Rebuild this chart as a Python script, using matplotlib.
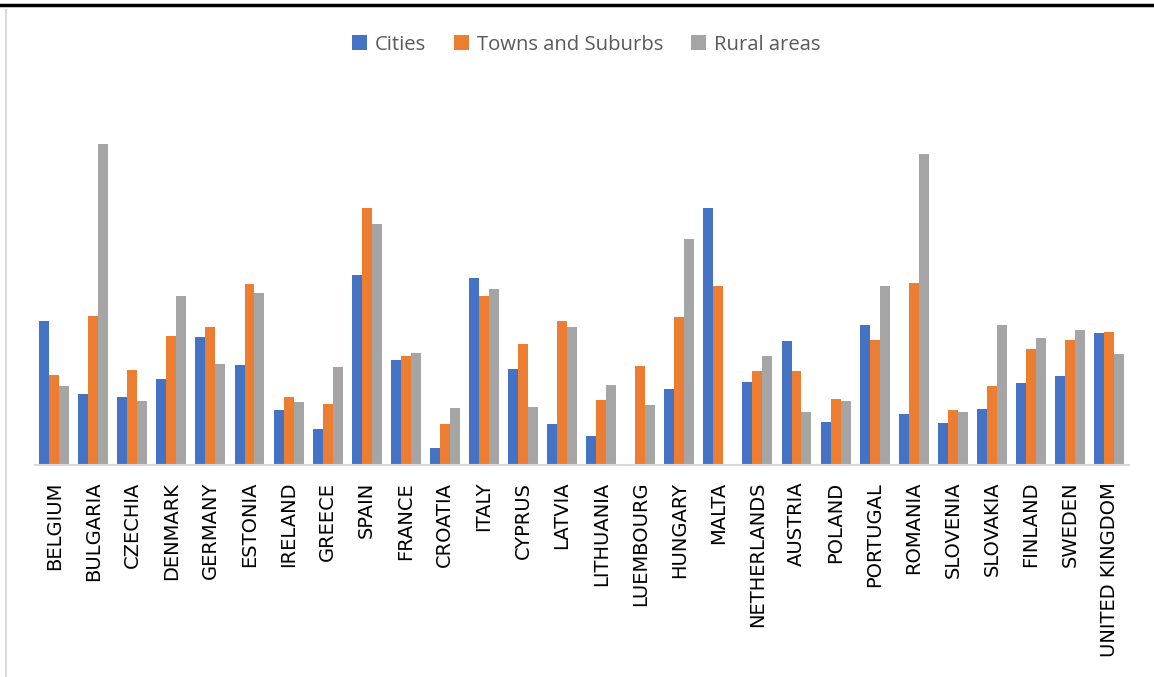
import matplotlib
matplotlib.use("Agg")
import matplotlib.pyplot as plt
from matplotlib.lines import Line2D
import numpy as np

countries = ["BELGIUM", "BULGARIA", "CZECHIA", "DENMARK", "GERMANY", "ESTONIA",
             "IRELAND", "GREECE", "SPAIN", "FRANCE", "CROATIA", "ITALY", "CYPRUS",
             "LATVIA", "LITHUANIA", "LUEMBOURG", "HUNGARY", "MALTA", "NETHERLANDS",
             "AUSTRIA", "POLAND", "PORTUGAL", "ROMANIA", "SLOVENIA", "SLOVAKIA",
             "FINLAND", "SWEDEN", "UNITED KINGDOM"]

cities = [14.4, 7.1, 6.8, 8.6, 12.8, 10.0, 5.5, 3.6, 19.0, 10.5, 1.7, 18.7, 9.6,
          4.1, 2.9, 0.0, 7.6, 25.7, 8.3, 12.4, 4.3, 14.0, 5.1, 4.2, 5.6, 8.2, 8.9, 13.2]
towns = [9.0, 14.9, 9.5, 12.9, 13.8, 18.1, 6.8, 6.1, 25.7, 10.9, 4.1, 16.9, 12.1,
         14.4, 6.5, 9.9, 14.8, 17.9, 9.4, 9.4, 6.6, 12.5, 18.2, 5.5, 7.9, 11.6, 12.5, 13.3]
rural = [7.9, 32.1, 6.4, 16.9, 10.1, 17.2, 6.3, 9.8, 24.1, 11.2, 5.7, 17.6, 5.8,
         13.8, 8.0, 6.0, 22.6, 0.0, 10.9, 5.3, 6.4, 17.9, 31.1, 5.3, 14.0, 12.7, 13.5, 11.1]

series = [("Cities", cities, "#4472C4"),
          ("Towns and Suburbs", towns, "#ED7D31"),
          ("Rural areas", rural, "#A5A5A5")]

fig = plt.figure(figsize=(11.54, 6.77), dpi=100)
ax = fig.add_axes([0.030, 0.313, 0.948, 0.517])

x = np.arange(len(countries))
w = 0.255
for i, (name, vals, col) in enumerate(series):
    ax.bar(x + (i - 1) * w, vals, w, color=col, label=name, linewidth=0)

ax.set_xlim(-0.5, len(countries) - 0.5)
ax.set_ylim(0, 35)
ax.set_yticks([])
ax.set_xticks(x)
ax.set_xticklabels(countries, rotation=90, fontsize=14, color="black",
                   family=["DejaVu Sans"])
ax.tick_params(axis="x", length=0, pad=12)
for s in ["top", "right", "left"]:
    ax.spines[s].set_visible(False)
ax.spines["bottom"].set_color("#D9D9D9")
ax.spines["bottom"].set_linewidth(1.5)

leg = fig.legend(loc="center", bbox_to_anchor=(0.508, 0.934), ncol=3, frameon=False,
                 prop={"family": "Open Sans", "size": 14.6}, handlelength=0.75,
                 handleheight=0.75, handletextpad=0.4, columnspacing=1.35)
for t in leg.get_texts():
    t.set_color("#595959")

# frame remnants of the original screenshot
fig.add_artist(Line2D([0, 1], [0.992, 0.992], color="black", linewidth=2.5,
                      transform=fig.transFigure))
fig.add_artist(Line2D([0.0055, 0.0055], [0, 0.985], color="#D9D9D9", linewidth=1.5,
                      transform=fig.transFigure))

fig.savefig("out.png", dpi=100, facecolor="white")
